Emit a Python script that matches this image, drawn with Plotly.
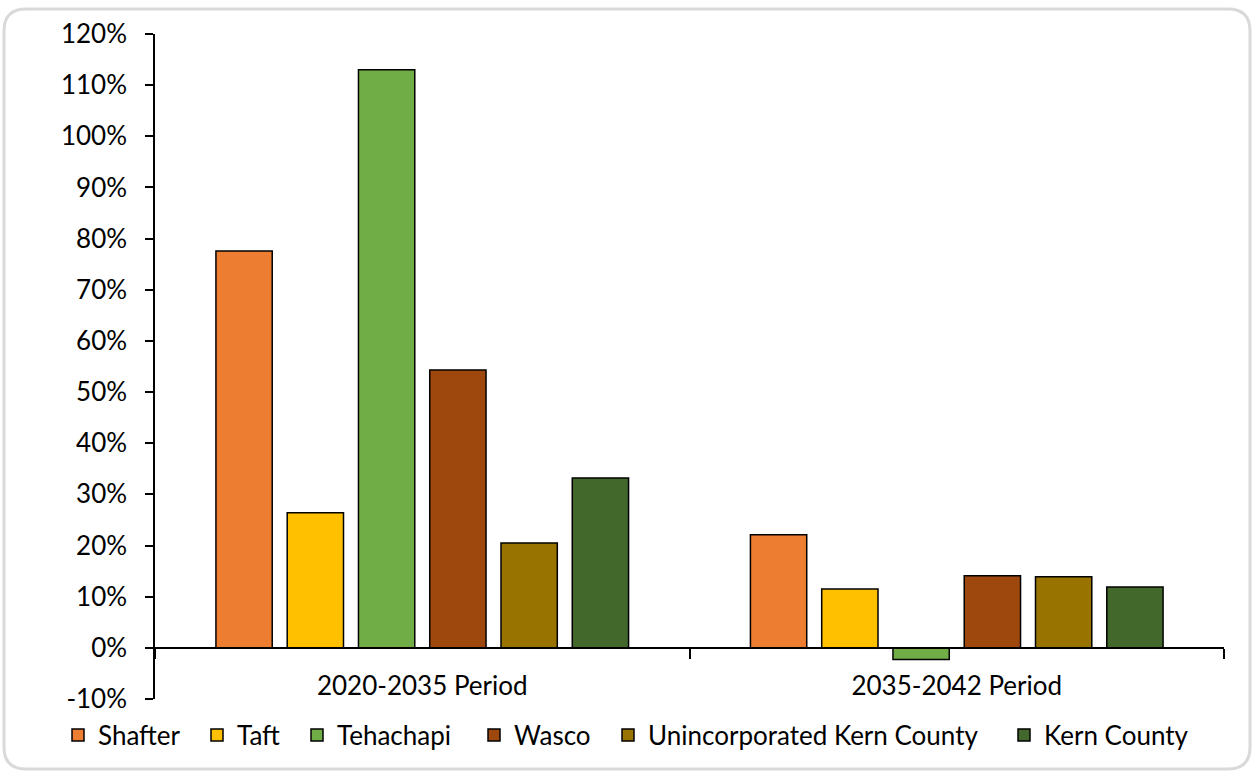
import plotly.graph_objects as go

categories = ["2020-2035 Period", "2035-2042 Period"]
series_names = ["Shafter", "Taft", "Tehachapi", "Wasco", "Unincorporated Kern County", "Kern County"]
shafter = [0.776, 0.221]
taft = [0.264, 0.115]
tehachapi = [1.130, -0.023]
wasco = [0.543, 0.141]
unincorporated = [0.205, 0.139]
kern_county = [0.332, 0.119]
series_values = [shafter, taft, tehachapi, wasco, unincorporated, kern_county]
colors = ["#ED7D31", "#FFC000", "#70AD47", "#9E480E", "#997300", "#43682B"]
y_tick_vals = [-0.1, 0.0, 0.1, 0.2, 0.3, 0.4, 0.5, 0.6, 0.7, 0.8, 0.9, 1.0, 1.1, 1.2]
y_tick_text = ["-10%", "0%", "10%", "20%", "30%", "40%", "50%", "60%", "70%", "80%",
               "90%", "100%", "110%", "120%"]

W, H = 1254, 772
L, R, T, B = 155, 30, 34, 73
FONT = "Lato, Carlito, 'Open Sans', sans-serif"
FS = 26
legend_text_x = [98, 237, 337, 514, 648, 1044]  # pixel layout of legend entries

fig = go.Figure()
for i, (name, vals, c) in enumerate(zip(series_names, series_values, colors)):
    fig.add_trace(go.Bar(
        x=categories, y=vals, name=name,
        marker=dict(color=c, line=dict(color="#000000", width=1.5)),
        legend="legend" if i == 0 else f"legend{i+1}",
    ))

# rounded border in paper coords
pw, ph = W - L - R, H - T - B
def px(x):
    return (x - L) / pw
def py(y):
    return (H - B - y) / ph
x0, x1, y0, y1, r = 4, 1250, 9, 769, 22
path = (f"M {px(x0+r)},{py(y0)} L {px(x1-r)},{py(y0)} Q {px(x1)},{py(y0)} {px(x1)},{py(y0+r)} "
        f"L {px(x1)},{py(y1-r)} Q {px(x1)},{py(y1)} {px(x1-r)},{py(y1)} "
        f"L {px(x0+r)},{py(y1)} Q {px(x0)},{py(y1)} {px(x0)},{py(y1-r)} "
        f"L {px(x0)},{py(y0+r)} Q {px(x0)},{py(y0)} {px(x0+r)},{py(y0)} Z")

legends = {}
for i, tx in enumerate(legend_text_x):
    key = "legend" if i == 0 else f"legend{i+1}"
    legends[key] = dict(orientation="h", xref="container", yref="container",
                        x=(tx - 40) / W, xanchor="left", y=(H - 735) / H, yanchor="middle",
                        font=dict(size=FS), itemwidth=30, bgcolor="rgba(0,0,0,0)")

fig.update_layout(
    width=W, height=H,
    margin=dict(l=L, r=R, t=T, b=B, autoexpand=False),
    paper_bgcolor="white", plot_bgcolor="white",
    font=dict(family=FONT, size=FS, color="#000000"),
    barmode="group", bargap=0.2, bargroupgap=0.21,
    showlegend=True,
    shapes=[dict(type="path", xref="paper", yref="paper", path=path,
                 line=dict(color="#D9D9D9", width=3), fillcolor="rgba(0,0,0,0)", layer="below")],
    xaxis=dict(
        showline=True, linecolor="#000000", linewidth=1.5,
        ticks="outside", tickson="boundaries", ticklen=10, tickcolor="#000000", tickwidth=1.5,
        anchor="free", position=0.1 / 1.3, showgrid=False,
        ticklabelstandoff=15, tickfont=dict(size=FS),
    ),
    yaxis=dict(
        range=[-0.1, 1.2], tickvals=y_tick_vals, ticktext=y_tick_text,
        showline=True, linecolor="#000000", linewidth=1.5,
        ticks="outside", ticklen=8, tickcolor="#000000", tickwidth=1.5,
        showgrid=False, zeroline=False, tickfont=dict(size=FS), ticklabelstandoff=13,
    ),
    **legends,
)

fig.write_html("out.html", config={"displayModeBar": False},
               post_script="document.body.style.margin='0';")
